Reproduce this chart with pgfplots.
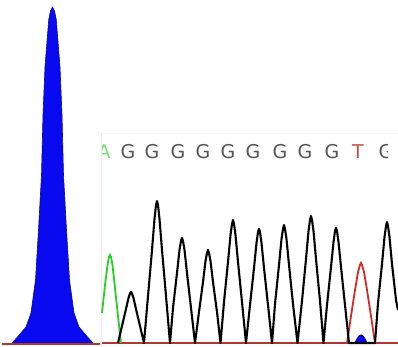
\documentclass[border=0pt]{standalone}
\usepackage{fontspec}
\setmainfont{DejaVu Sans}
\usepackage{pgfplots}
\pgfplotsset{compat=1.18}
\definecolor{pkblue}{RGB}{10,10,240}
\definecolor{pkgreen}{RGB}{40,205,40}
\definecolor{pkred}{RGB}{215,40,40}
\definecolor{basered}{RGB}{175,55,50}
\definecolor{txtgray}{RGB}{85,85,85}
\definecolor{txtred}{RGB}{200,80,80}
\definecolor{txtgreen}{RGB}{120,220,120}
\tikzset{base/.style={font=\fontsize{19}{19}\selectfont}}
\begin{document}
\begin{tikzpicture}
\begin{axis}[
  scale only axis, width=398pt, height=347pt,
  xmin=0, xmax=398, ymin=-4, ymax=343,
  axis lines=none, ticks=none, clip=true,
]
\path (rel axis cs:0,0) rectangle (rel axis cs:1,1);
% left panel: blue peak
\addplot[fill=pkblue, draw=pkblue!70!black, line width=0.6pt] coordinates {
 (12,0) (17.5,6) (26,16) (31,30) (35.5,63) (38.5,113) (41.5,168) (43,228)
 (45,276) (48.7,323) (50.5,332) (52.5,336) (54.5,332) (56.3,323) (60,276)
 (62,228) (63.5,168) (66.5,113) (69.5,63) (74,30) (79,16) (87.5,6) (93,0)
} -- cycle;
% left baseline
\addplot[basered, line width=1.2pt] coordinates {(2,-1) (100,-1)};
% panel border (faint)
\addplot[red!10, line width=0.6pt] coordinates {(101,-4) (101,210)};
\addplot[red!5, line width=0.6pt] coordinates {(102,210) (398,210)};
% right baseline
\addplot[basered, line width=1.2pt] coordinates {(102,0) (398,0)};
% green peak
\addplot[pkgreen, line width=1.8pt] coordinates {
 (102,30) (105,58) (107.5,78) (109,86) (110,88) (111,86) (112.5,78) (115,55) (118,27) (121,0)
};
% red peak
\addplot[pkred, line width=1.8pt] coordinates {
 (347,0) (351,27) (355,53) (358,71) (360,78) (361,80) (362,78) (364,71) (367,53) (371,27) (375,0)
};
% small blue bump
\addplot[fill=pkblue, draw=pkblue!70!black, line width=1pt] coordinates {
 (355,0) (357,4) (359,7) (361,8) (363,7) (365,4) (367,0)
} -- cycle;
% black trace
\addplot[black, line width=2.1pt, line join=round] coordinates {
 (118,0) (122,17) (126,34) (128.5,45) (130,49.5) (131,51) (132,49.5) (133.5,45) (136,34) (140,17) (144,0)
 (148,47) (152,93) (154.5,124) (156,138) (157,142) (158,138) (159.5,124) (162,93) (166,47) (170,0)
 (173,35) (177,70) (179.5,93) (181,102) (182,105) (183,102) (184.5,93) (187,70) (191,35) (195,0)
 (199,31) (203,61) (205.5,82) (207,90) (208,93) (209,90) (210.5,82) (213,61) (217,31) (220.5,0)
 (224,41) (228,81) (230.5,108) (232,119) (233,123) (234,119) (235.5,108) (238,81) (242,41) (246,0)
 (250,38) (254,75) (256.5,100) (258,111) (259,114) (260,111) (261.5,100) (264,75) (268,38) (272,0)
 (275,39) (279,78) (281.5,104) (283,114) (284,118) (285,114) (286.5,104) (289,78) (293,39) (297.5,0)
 (302,42) (306,84) (308.5,112) (310,123) (311,127) (312,123) (313.5,112) (316,84) (320,42) (323.5,0)
 (327,38) (331,76) (333.5,101) (335,112) (336,115) (337,112) (338.5,101) (341,76) (345,38) (349,0)
 (375,0)
 (378,40) (382,79) (384.5,106) (386,117) (387,121) (388,117) (389.5,106) (392,79) (396,43) (398,33)
};
% base letters
\begin{scope}
\clip (axis cs:102,160) rectangle (axis cs:387,225);
\node[txtgreen, base] at (axis cs:104,191) {A};
\node[txtgray, base] at (axis cs:128,191) {G};
\node[txtgray, base] at (axis cs:152,191) {G};
\node[txtgray, base] at (axis cs:178,191) {G};
\node[txtgray, base] at (axis cs:203,191) {G};
\node[txtgray, base] at (axis cs:228,191) {G};
\node[txtgray, base] at (axis cs:253,191) {G};
\node[txtgray, base] at (axis cs:280,191) {G};
\node[txtgray, base] at (axis cs:305,191) {G};
\node[txtgray, base] at (axis cs:332,191) {G};
\node[txtred, base] at (axis cs:358,191) {T};
\node[txtgray, base] at (axis cs:386,191) {G};
\end{scope}
\end{axis}
\end{tikzpicture}
\end{document}
